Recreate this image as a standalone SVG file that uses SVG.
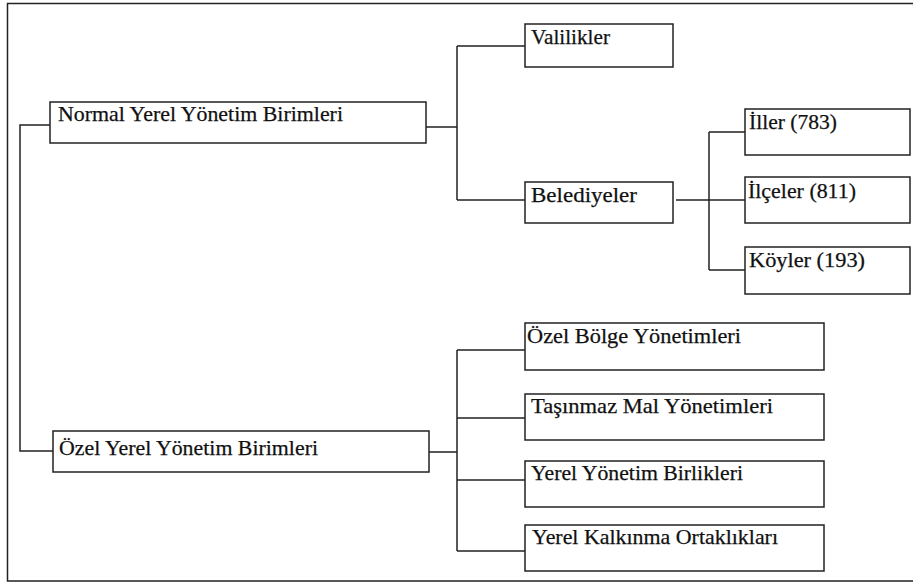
<svg xmlns="http://www.w3.org/2000/svg" width="913" height="583" viewBox="0 0 913 583">
<style>
.box{fill:#fff;stroke:#222;stroke-width:1.5}
.ln{fill:none;stroke:#222;stroke-width:1.5}
.t{font-family:'Liberation Serif','Times New Roman',serif;font-size:22px;fill:#111;stroke:#111;stroke-width:0.25}
</style>
<rect width="913" height="583" fill="#fff"/>
<path class="ln" d="M913,3.5 H7.5 V581 H913" stroke-width="2"/>
<g id="connectors">
<path class="ln" d="M50,125 H20 V451 H53"/>
<path class="ln" d="M426,127 H457 M457,46 V200 M457,46 H525 M457,200 H525"/>
<path class="ln" d="M676,200 H745 M709,132 V270 M709,132 H745 M709,270 H745"/>
<path class="ln" d="M429,452 H457 M457,350 V551 M457,350 H525 M457,418 H525 M457,480 H525 M457,551 H525"/>
</g>
<g id="normal"><rect class="box" x="50" y="102" width="376" height="41"/><text class="t" x="58" y="121" textLength="285" lengthAdjust="spacingAndGlyphs">Normal Yerel Yönetim Birimleri</text></g>
<g id="ozel"><rect class="box" x="53" y="431" width="376" height="41"/><text class="t" x="59" y="455" textLength="259" lengthAdjust="spacingAndGlyphs">Özel Yerel Yönetim Birimleri</text></g>
<g id="valilikler"><rect class="box" x="525" y="24" width="148" height="43"/><text class="t" x="531" y="44" textLength="79" lengthAdjust="spacingAndGlyphs">Valilikler</text></g>
<g id="belediyeler"><rect class="box" x="525" y="182" width="148" height="41"/><text class="t" x="531" y="202" textLength="106" lengthAdjust="spacingAndGlyphs">Belediyeler</text></g>
<g id="iller"><rect class="box" x="745" y="109" width="165" height="46"/><text class="t" x="749" y="129" textLength="88" lengthAdjust="spacingAndGlyphs">İller (783)</text></g>
<g id="ilceler"><rect class="box" x="745" y="177" width="165" height="46"/><text class="t" x="748" y="198" textLength="108" lengthAdjust="spacingAndGlyphs">İlçeler (811)</text></g>
<g id="koyler"><rect class="box" x="745" y="247" width="165" height="47"/><text class="t" x="749" y="267" textLength="116" lengthAdjust="spacingAndGlyphs">Köyler (193)</text></g>
<g id="ozelbolge"><rect class="box" x="525" y="323" width="299" height="47"/><text class="t" x="527" y="343" textLength="214" lengthAdjust="spacingAndGlyphs">Özel Bölge Yönetimleri</text></g>
<g id="tasinmaz"><rect class="box" x="525" y="394" width="299" height="46"/><text class="t" x="531" y="413" textLength="242" lengthAdjust="spacingAndGlyphs">Taşınmaz Mal Yönetimleri</text></g>
<g id="birlikleri"><rect class="box" x="525" y="461" width="299" height="46"/><text class="t" x="531" y="480" textLength="212" lengthAdjust="spacingAndGlyphs">Yerel Yönetim Birlikleri</text></g>
<g id="kalkinma"><rect class="box" x="525" y="525" width="299" height="46"/><text class="t" x="532" y="544" textLength="246" lengthAdjust="spacingAndGlyphs">Yerel Kalkınma Ortaklıkları</text></g>
</svg>
